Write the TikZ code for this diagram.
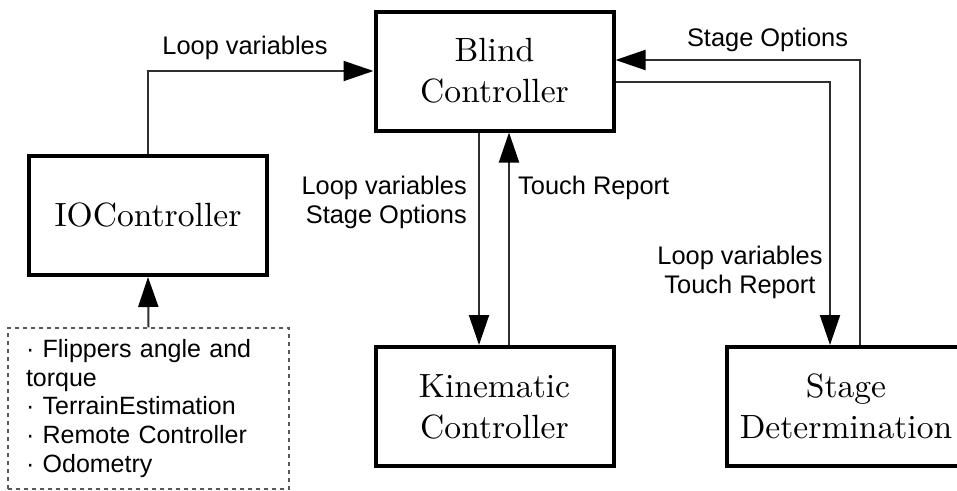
\documentclass[tikz,border=0pt]{standalone}
\usepackage{fontspec}
\setmainfont{Liberation Sans}
\newfontfamily\boxfont{lmroman10-regular}[Extension=.otf]
\usetikzlibrary{arrows.meta}

\begin{document}
\begin{tikzpicture}[x=1pt,y=-1pt,
  block/.style={draw=black, line width=4pt, minimum width=238pt, minimum height=119pt,
    inner sep=0pt, align=center, font=\boxfont\fontsize{33.6}{41}\selectfont},
  flow/.style={draw=black!82, line width=2pt,
    -{Triangle[length=30pt,width=20pt,color=black,fill=black]}},
  lbl/.style={inner sep=0pt, font=\fontsize{25.4}{29}\selectfont},
  inbox/.style={draw=black!65, line width=1.3pt, dash pattern=on 4pt off 4pt,
    minimum width=281pt, minimum height=161pt, inner xsep=18pt, inner ysep=0pt,
    text width=245pt, align=left, font=\fontsize{25}{28.75}\selectfont},
]
\useasboundingbox (0,0) rectangle (957,490);
\clip (0,0) rectangle (957,490);

% main blocks
\node[block] (blind) at (494.5,71) {Blind\\Controller};
\node[block] (io)    at (148,215.5) {IOController};
\node[block] (kin)   at (494.5,406.5) {Kinematic\\Controller};
\node[block] (stage) at (846,406.5) {Stage\\Determination};

% sensor inputs
\node[inbox] (inputs) at (148.5,408.5)
  {· Flippers angle and\\torque\\· TerrainEstimation\\· Remote Controller\\· Odometry};

% connectors
\draw[flow] (io.north) |- (blind.west);
\draw[flow] ([xshift=14pt]stage.north) |- ([yshift=11pt]blind.east);
\draw[flow] ([yshift=-11pt]blind.east) -| ([xshift=-16pt]stage.north);
\draw[flow] ([xshift=-15.5pt]blind.south) -- ([xshift=-15.5pt]kin.north);
\draw[flow] ([xshift=14.5pt]kin.north) -- ([xshift=14.5pt]blind.south);
\draw[flow] (inputs.north) -- (io.south);

% connector labels
\node[lbl, anchor=base] (lvTop) at (245,54) {Loop variables};
\node[lbl, anchor=base] (soTop) at (767.5,46) {Stage Options};
\node[lbl, anchor=east, align=right] (lvKin) at (467,202) {Loop variables\\Stage Options};
\node[lbl, anchor=base west] (trKin) at (518,194) {Touch Report};
\node[lbl, align=center] (lvStage) at (740,272) {Loop variables\\Touch Report};
\end{tikzpicture}
\end{document}
